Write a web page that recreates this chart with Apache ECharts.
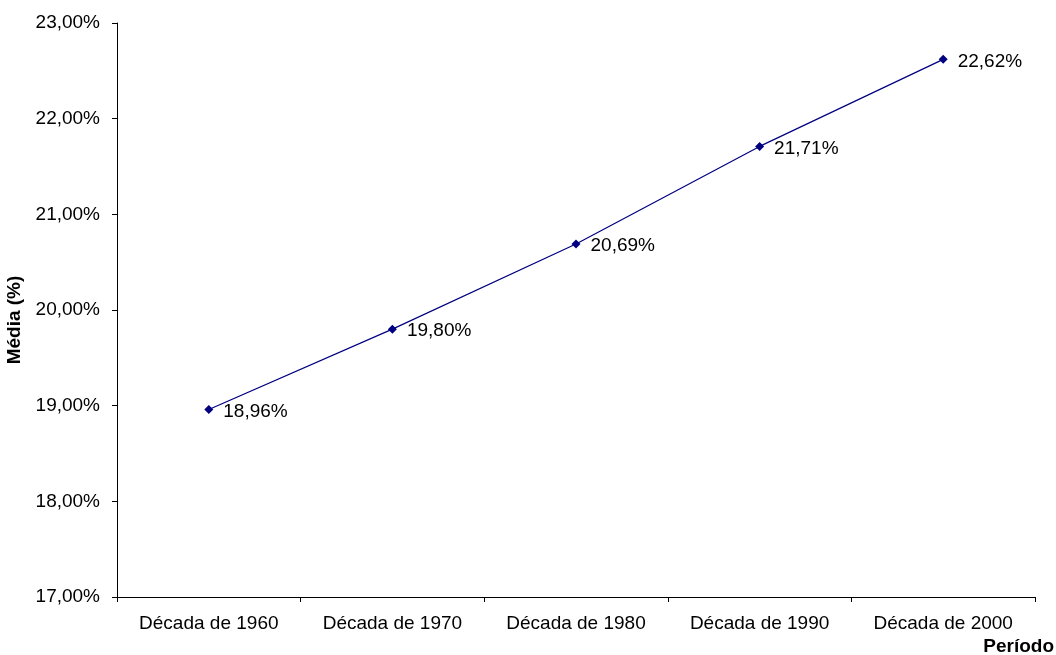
<!DOCTYPE html>
<html>
<head>
<meta charset="utf-8">
<script src="https://cdn.jsdelivr.net/npm/echarts@6/dist/echarts.min.js"></script>
<style>
  html, body { margin: 0; padding: 0; background: #ffffff; }
  #chart { width: 1056px; height: 655px; }
</style>
</head>
<body>
<div id="chart"></div>
<script>
// Categorias (décadas) e médias em %
const categories = ['Década de 1960', 'Década de 1970', 'Década de 1980', 'Década de 1990', 'Década de 2000'];
const mediaValues = [18.96, 19.80, 20.69, 21.71, 22.62];
const yMin = 17;
const yMax = 23;
const yStep = 1;

const fmt = v => v.toFixed(2).replace('.', ',') + '%';
const font = 'Liberation Sans, Arial, sans-serif';

const chart = echarts.init(document.getElementById('chart'), null, { renderer: 'canvas' });
chart.setOption({
  backgroundColor: '#ffffff',
  animation: false,
  grid: { left: 117, right: 21, top: 23, bottom: 58, containLabel: false, outerBoundsMode: 'none' },
  xAxis: {
    type: 'category',
    data: categories,
    boundaryGap: true,
    name: 'Período',
    nameLocation: 'end',
    nameGap: 19,
    nameTextStyle: {
      fontFamily: font, fontSize: 19, fontWeight: 'bold', color: '#000',
      align: 'right', verticalAlign: 'top', padding: [40, 0, 0, 0]
    },
    axisLine: { lineStyle: { color: '#000', width: 1 } },
    axisTick: { show: true, alignWithLabel: false, length: 5, lineStyle: { color: '#000' } },
    axisLabel: { fontFamily: font, fontSize: 19, color: '#000', margin: 17 },
    splitLine: { show: false }
  },
  yAxis: {
    type: 'value',
    min: yMin,
    max: yMax,
    interval: yStep,
    name: 'Média (%)',
    nameLocation: 'middle',
    nameGap: 84,
    nameRotate: 90,
    nameTextStyle: {
      fontFamily: font, fontSize: 19, fontWeight: 'bold', color: '#000',
      padding: [0, 20, 0, 0]
    },
    axisLine: { show: true, lineStyle: { color: '#000', width: 1 } },
    axisTick: { show: true, length: 5, lineStyle: { color: '#000' } },
    axisLabel: { fontFamily: font, fontSize: 19, color: '#000', margin: 17, formatter: v => fmt(v) },
    splitLine: { show: false }
  },
  series: [{
    type: 'line',
    data: mediaValues,
    symbol: 'diamond',
    symbolSize: 9,
    lineStyle: { color: '#000080', width: 1.2 },
    itemStyle: { color: '#000080' },
    label: {
      show: true,
      position: 'right',
      distance: 10,
      offset: [0, 2],
      fontFamily: font,
      fontSize: 19,
      color: '#000',
      formatter: p => fmt(p.value)
    }
  }]
});
</script>
</body>
</html>
